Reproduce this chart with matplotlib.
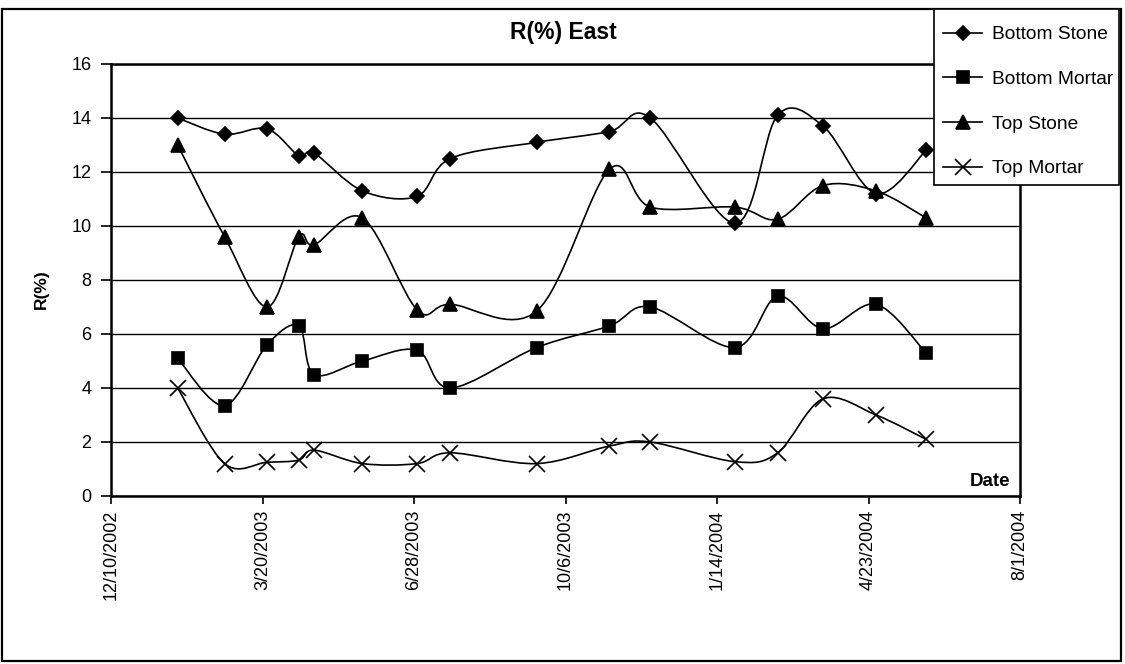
import numpy as np
import pandas as pd
import matplotlib
matplotlib.use('Agg')
import matplotlib.pyplot as plt
import matplotlib.dates as mdates
from matplotlib.path import Path
from matplotlib.patches import PathPatch, Rectangle
from matplotlib.lines import Line2D
from matplotlib.ticker import FuncFormatter, MultipleLocator

plt.rcParams['font.family'] = ['Liberation Sans', 'DejaVu Sans']

# Measurement dates and R(%) readings
dates = ['2003-01-23', '2003-02-23', '2003-03-23', '2003-04-13', '2003-04-23',
         '2003-05-25', '2003-06-30', '2003-07-22', '2003-09-17', '2003-11-04',
         '2003-12-01', '2004-01-26', '2004-02-23', '2004-03-24', '2004-04-28',
         '2004-05-31']
bottom_stone = [14.0, 13.4, 13.6, 12.6, 12.7, 11.3, 11.1, 12.5, 13.1, 13.5,
                14.0, 10.1, 14.1, 13.7, 11.2, 12.8]
bottom_mortar = [5.1, 3.35, 5.6, 6.3, 4.5, 5.0, 5.4, 4.0, 5.5, 6.3,
                 7.0, 5.5, 7.4, 6.2, 7.1, 5.3]
top_stone = [13.0, 9.6, 7.0, 9.6, 9.3, 10.3, 6.9, 7.1, 6.85, 12.1,
             10.7, 10.7, 10.25, 11.5, 11.3, 10.3]
top_mortar = [4.0, 1.2, 1.25, 1.33, 1.7, 1.2, 1.2, 1.6, 1.2, 1.85,
              2.0, 1.27, 1.6, 3.6, 3.0, 2.1]

series = [('Bottom Stone', bottom_stone, 'D', 7.2),
          ('Bottom Mortar', bottom_mortar, 's', 8.5),
          ('Top Stone', top_stone, '^', 9.5),
          ('Top Mortar', top_mortar, 'x', 12)]

x = mdates.date2num(pd.to_datetime(dates))

W, H = 1125, 664


def smooth_path(xs, ys):
    # cubic bezier through every point (Catmull-Rom style tangents)
    pts = np.column_stack([xs, ys])
    ext = np.vstack([pts[:1], pts, pts[-1:]])
    verts = [pts[0]]
    codes = [Path.MOVETO]
    for i in range(len(pts) - 1):
        p0, p1, p2, p3 = ext[i], ext[i + 1], ext[i + 2], ext[i + 3]
        verts += [p1 + (p2 - p0) / 6, p2 - (p3 - p1) / 6, p2]
        codes += [Path.CURVE4] * 3
    return Path(verts, codes)


def px_rect(x0, y0, x1, y1, **kw):
    # rectangle given in pixel coords from the top-left corner
    return Rectangle((x0 / W, 1 - y1 / H), (x1 - x0) / W, (y1 - y0) / H,
                     transform=fig.transFigure, **kw)


fig = plt.figure(figsize=(W / 100, H / 100), dpi=100)
ax = fig.add_axes([111 / W, 1 - 496 / H, 909 / W, 432 / H])

handles = []
for name, vals, mk, ms in series:
    ax.add_patch(PathPatch(smooth_path(x, vals), fill=False, lw=1.2,
                           ec='black', zorder=3))
    ax.plot(x, vals, linestyle='none', marker=mk, ms=ms, color='black',
            mec='black', mew=1.2, zorder=4)
    handles.append(Line2D([], [], color='black', lw=1.2, marker=mk, ms=ms,
                          mew=1.2))

start = mdates.date2num(pd.Timestamp('2002-12-10'))
ax.set_xlim(start, start + 600)
ax.set_ylim(0, 16)
ax.set_xticks([start + 100 * k for k in range(7)])
ax.xaxis.set_major_formatter(FuncFormatter(
    lambda v, p: '{0.month}/{0.day}/{0.year}'.format(mdates.num2date(v))))
ax.yaxis.set_major_locator(MultipleLocator(2))
ax.grid(axis='y', color='black', lw=1.0)
ax.set_axisbelow(True)

for s in ax.spines.values():
    s.set_linewidth(1.8)
ax.tick_params(axis='x', labelrotation=90, labelsize=13, direction='out',
               length=6, width=1.2, pad=4)
ax.tick_params(axis='y', labelsize=13, direction='out', length=7,
               width=1.2, pad=7)

fig.text(0.5005, 1 - 32 / H, 'R(%) East', ha='center', va='center',
         fontsize=16.5, fontweight='bold')
fig.text(41 / W, 1 - 289 / H, 'R(%)', rotation=90, ha='center',
         va='center', fontsize=12.5, fontweight='bold')
fig.text(1010 / W, 1 - 486 / H, 'Date', ha='right', va='baseline',
         fontsize=13.5, fontweight='bold')

# outer frame, then the white legend box over the plot corner
fig.patches.append(px_rect(2, 9, 1121, 661, fill=False, ec='black', lw=1.6))
fig.patches.append(px_rect(934, 9, 1119, 185, fc='white', ec='black',
                           lw=1.2, zorder=2))

leg = fig.legend(handles, [s[0] for s in series], loc='upper left',
                 bbox_to_anchor=(943 / W, 1 - 26 / H), fontsize=13.8,
                 frameon=False, borderaxespad=0, borderpad=0,
                 labelspacing=1.42, handlelength=2.05, handletextpad=0.5)
leg.set_zorder(3)

plt.savefig('out.png', dpi=100)
